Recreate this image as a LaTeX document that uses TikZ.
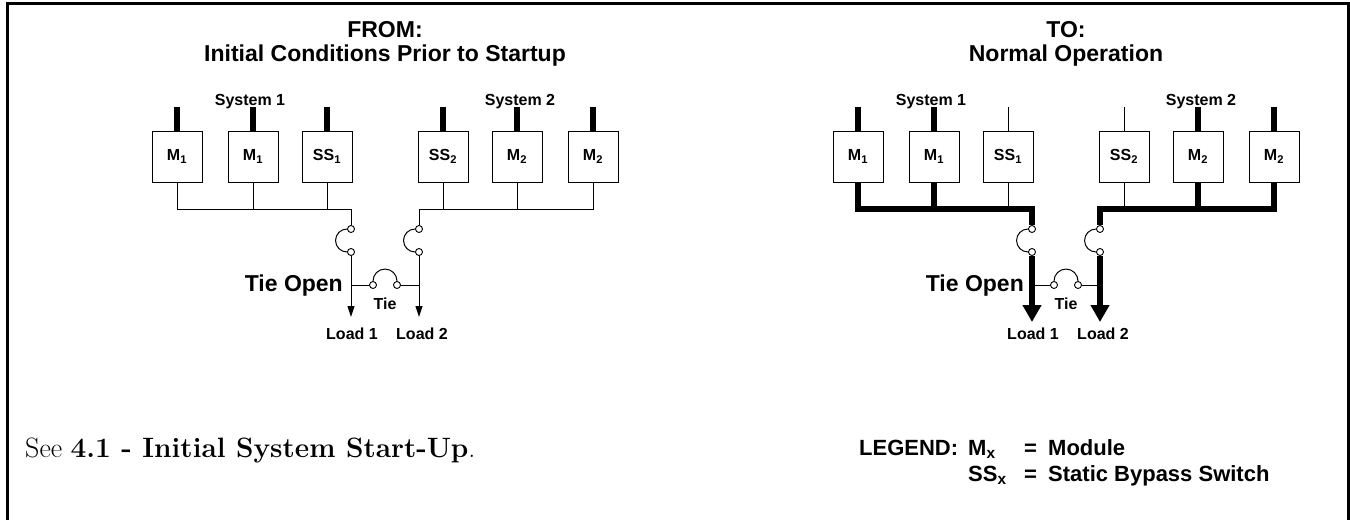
\documentclass[tikz,border=0pt]{standalone}
\usepackage{fontspec}
\setsansfont{Liberation Sans}
\usetikzlibrary{arrows.meta}

\begin{document}
\begin{tikzpicture}[x=1pt, y=-1pt, line join=miter,
    every node/.style={inner sep=0pt},
    lbl/.style={font=\sffamily\bfseries\fontsize{16}{18}\selectfont},
    big/.style={font=\sffamily\bfseries\fontsize{23}{24}\selectfont},
    leg/.style={font=\sffamily\bfseries\fontsize{22}{24}\selectfont, anchor=base west},
    unit/.style={draw, line width=0.9pt, minimum width=50pt, minimum height=51pt, lbl},
    term/.style={draw, circle, fill=white, line width=0.9pt, minimum size=7pt},
    wire/.style={line width=1pt},
    heavy/.style={line width=5.5pt},
    feed/.style={wire, -{Triangle[length=11pt,width=7pt]}},
    heavyfeed/.style={heavy, -{Triangle[length=17pt,width=18pt]}}]

  \useasboundingbox (0,0) rectangle (1350,520);
  \draw[line width=3pt] (7.5,520) -- (7.5,3.5) -- (1348.5,3.5) -- (1348.5,520);

  % FROM: initial conditions
  \node[big, align=center, anchor=north] (ftitle) at (385,21) {FROM:\\Initial Conditions Prior to Startup};
  \node[lbl, anchor=base] (fsys1) at (250,105) {System 1};
  \node[lbl, anchor=base] (fsys2) at (520,105) {System 2};
  \coordinate (fbus) at (0,209);
  \foreach \i/\x/\t in {1/177/M\textsubscript{1}, 2/253/M\textsubscript{1}, 3/327/SS\textsubscript{1},
                        4/443/SS\textsubscript{2}, 5/517/M\textsubscript{2}, 6/593/M\textsubscript{2}} {
    \node[unit] (f\i) at (\x,156.5) {\t};
    \draw[heavy] (f\i.north) -- ++(0,-24);
    \draw[wire] (f\i.south) -- (f\i |- fbus);
  }
  \node[term] (fa1) at (351,229) {};
  \node[term] (fa2) at (351,252) {};
  \node[term] (fb1) at (419,229) {};
  \node[term] (fb2) at (419,252) {};
  \draw[wire] (f1.south) -- (f1 |- fbus) -| (fa1);
  \draw[wire] (f6.south) -- (f6 |- fbus) -| (fb1);
  \draw[wire] (fa1.west) arc[start angle=270, end angle=90, radius=11.5];
  \draw[wire] (fb1.west) arc[start angle=270, end angle=90, radius=11.5];
  \coordinate (fl1) at (351,317);
  \coordinate (fl2) at (419,317);
  \draw[feed] (fa2) -- (fl1);
  \draw[feed] (fb2) -- (fl2);
  \node[term] (ft1) at (373,285) {};
  \node[term] (ft2) at (397,285) {};
  \draw[wire] (ft1) -- (ft1 -| fa2);
  \draw[wire] (ft2) -- (ft2 -| fb2);
  \draw[wire] (ft1.north) arc[start angle=180, end angle=360, radius=12];
  \node[big, anchor=base east] (fopen) at (343,291) {Tie Open};
  \node[lbl, anchor=base] (ftie) at (385,309) {Tie};
  \node[lbl, anchor=base] (fload1) at (352,339) {Load 1};
  \node[lbl, anchor=base] (fload2) at (422,339) {Load 2};

  % TO: normal operation
  \begin{scope}[xshift=681pt]
    \node[big, align=center, anchor=north] (ttitle) at (385,21) {TO:\\Normal Operation};
    \node[lbl, anchor=base] (tsys1) at (250,105) {System 1};
    \node[lbl, anchor=base] (tsys2) at (520,105) {System 2};
    \coordinate (tbus) at (0,209);
    \foreach \i/\x/\t/\s in {1/177/M\textsubscript{1}/heavy, 2/253/M\textsubscript{1}/heavy, 3/327/SS\textsubscript{1}/wire,
                             4/443/SS\textsubscript{2}/wire, 5/517/M\textsubscript{2}/heavy, 6/593/M\textsubscript{2}/heavy} {
      \node[unit] (t\i) at (\x,156.5) {\t};
      \draw[\s] (t\i.north) -- ++(0,-24);
      \draw[\s] (t\i.south) -- (t\i |- tbus);
    }
    \node[term] (ta1) at (351,229) {};
    \node[term] (ta2) at (351,252) {};
    \node[term] (tb1) at (419,229) {};
    \node[term] (tb2) at (419,252) {};
    \draw[heavy] (t1.south) -- (t1 |- tbus) -| (ta1);
    \draw[heavy] (t6.south) -- (t6 |- tbus) -| (tb1);
    \draw[wire] (ta1.west) arc[start angle=270, end angle=90, radius=11.5];
    \draw[wire] (tb1.west) arc[start angle=270, end angle=90, radius=11.5];
    \coordinate (tl1) at (351,322);
    \coordinate (tl2) at (419,322);
    \draw[heavyfeed] (ta2) -- (tl1);
    \draw[heavyfeed] (tb2) -- (tl2);
    \node[term] (tt1) at (373,285) {};
    \node[term] (tt2) at (397,285) {};
    \draw[wire] (tt1) -- (tt1 -| ta2);
    \draw[wire] (tt2) -- (tt2 -| tb2);
    \draw[wire] (tt1.north) arc[start angle=180, end angle=360, radius=12];
    \node[big, anchor=base east] (topen) at (343,291) {Tie Open};
    \node[lbl, anchor=base] (ttie) at (385,309) {Tie};
    \node[lbl, anchor=base] (tload1) at (352,339) {Load 1};
    \node[lbl, anchor=base] (tload2) at (422,339) {Load 2};
  \end{scope}

  % notes
  \node[anchor=base west, font=\fontsize{28}{30}\selectfont] (see) at (25,457) {See \textbf{4.1 - Initial System Start-Up}.};
  \node[leg] (legend) at (859,455) {LEGEND:};
  \node[leg] (legm) at (968,455) {M\textsubscript{x}};
  \node[leg] (legeqm) at (1024,455) {=};
  \node[leg] (legmod) at (1048,455) {Module};
  \node[leg] (legss) at (968,481) {SS\textsubscript{x}};
  \node[leg] (legeqss) at (1024,481) {=};
  \node[leg] (legsbs) at (1048,481) {Static Bypass Switch};
\end{tikzpicture}
\end{document}
